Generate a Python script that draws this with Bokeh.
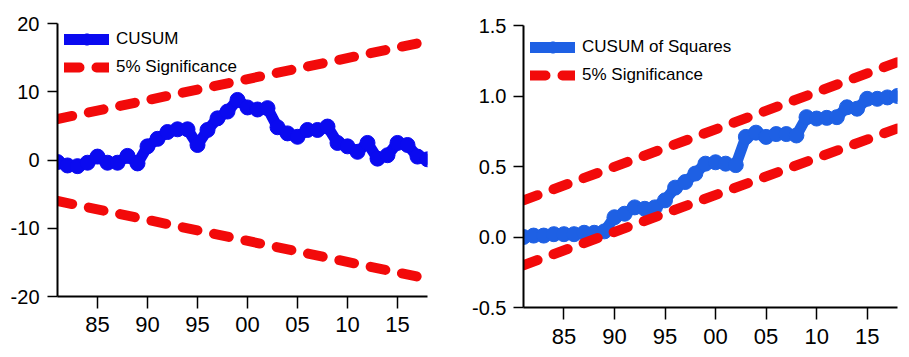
from bokeh.plotting import figure
from bokeh.layouts import row
from bokeh.models import FixedTicker, Legend, LegendItem, Range1d
from bokeh.embed import file_html
from bokeh.resources import INLINE

# ---- data ----
years = list(range(1981, 2019))
cusum = [-0.3, -0.8, -0.9, -0.4, 0.5, -0.4, -0.4, 0.6, -0.5, 2.0,
         3.1, 4.1, 4.5, 4.5, 2.2, 4.4, 6.1, 7.1, 8.8, 7.7,
         7.4, 7.6, 4.8, 3.9, 3.4, 4.4, 4.4, 4.9, 2.5, 2.0,
         1.2, 2.5, 0.2, 0.7, 2.5, 2.2, 0.5, 0.1]
cusum_band_years = [1981, 2018]
cusum_upper = [6.0, 17.4]
cusum_lower = [-6.0, -17.4]

cusumsq = [0.00, 0.01, 0.01, 0.02, 0.02, 0.02, 0.03, 0.03, 0.04, 0.14,
           0.165, 0.21, 0.20, 0.21, 0.26, 0.35, 0.39, 0.45, 0.52, 0.53,
           0.52, 0.51, 0.71, 0.74, 0.71, 0.73, 0.73, 0.72, 0.85, 0.84,
           0.845, 0.85, 0.92, 0.91, 0.98, 0.98, 0.99, 1.00]
sq_band_years = [1981, 2018]
sq_upper = [0.26, 1.24]
sq_lower = [-0.20, 0.77]

x_ticks = [1985, 1990, 1995, 2000, 2005, 2010, 2015]
x_tick_labels = ["85", "90", "95", "00", "05", "10", "15"]
left_y_ticks = [-20, -10, 0, 10, 20]
left_y_labels = ["-20", "-10", "0", "10", "20"]
right_y_ticks = [-0.5, 0.0, 0.5, 1.0, 1.5]
right_y_labels = ["-0.5", "0.0", "0.5", "1.0", "1.5"]

H = 357
SANS = "Liberation Sans"


def style(p, yticks, ylabels, x_standoff, y_standoff):
    for ax in (p.xaxis[0], p.yaxis[0]):
        ax.axis_line_color = "black"
        ax.axis_line_width = 2
        ax.major_tick_line_color = "black"
        ax.major_tick_line_width = 1.5
        ax.minor_tick_line_color = None
        ax.minor_tick_out = 0
        ax.minor_tick_in = 0
        ax.major_tick_in = 0
        ax.major_label_text_color = "black"
        ax.major_label_text_font = SANS
    p.xaxis[0].ticker = FixedTicker(ticks=x_ticks)
    p.xaxis[0].major_label_overrides = dict(zip(x_ticks, x_tick_labels))
    p.xaxis[0].major_tick_out = 12
    p.xaxis[0].major_label_standoff = x_standoff
    p.xaxis[0].major_label_text_font_size = "22px"
    p.yaxis[0].ticker = FixedTicker(ticks=yticks)
    p.yaxis[0].major_label_overrides = dict(zip(yticks, ylabels))
    p.yaxis[0].major_tick_out = 10
    p.yaxis[0].major_label_standoff = y_standoff
    p.yaxis[0].major_label_text_font_size = "20px"
    p.xgrid.visible = False
    p.ygrid.visible = False
    p.outline_line_color = None
    p.background_fill_color = "white"
    p.border_fill_color = "white"


def add_legend(p, items, loc):
    leg = Legend(items=items, location=loc, orientation="vertical",
                 glyph_width=45, glyph_height=28, label_height=28,
                 label_standoff=7, spacing=0, padding=1, margin=0,
                 border_line_color=None, background_fill_alpha=0,
                 label_text_font=SANS, label_text_font_size="17px",
                 label_text_color="black")
    p.add_layout(leg, "center")


red = "#F20A0A"

# ---- left: CUSUM ----
p1 = figure(width=460, height=H, x_range=Range1d(1981, 2018), y_range=Range1d(-20, 20),
            output_backend="svg", toolbar_location=None, frame_align=False,
            min_border_left=57, min_border_right=33, min_border_top=23,
            min_border_bottom=H - 23 - 273)
style(p1, left_y_ticks, left_y_labels, 8, 8)
blue1 = "#0A0AF0"
l1 = p1.line(years, cusum, line_color=blue1, line_width=11, line_join="round", line_cap="round")
m1 = p1.scatter(years, cusum, marker="circle", size=15, fill_color=blue1, line_color=blue1)
r1a = p1.line(cusum_band_years, cusum_upper, line_color=red, line_width=10,
              line_dash="15 17", line_cap="round")
r1b = p1.line(cusum_band_years, cusum_lower, line_color=red, line_width=10,
              line_dash="15 17", line_cap="round")
add_legend(p1, [LegendItem(label="CUSUM", renderers=[l1, m1]),
                LegendItem(label="5% Significance", renderers=[r1a])], (7, 215))

# ---- right: CUSUM of Squares ----
p2 = figure(width=449, height=H, x_range=Range1d(1981, 2018), y_range=Range1d(-0.5, 1.5),
            output_backend="svg", toolbar_location=None, frame_align=False,
            min_border_left=63, min_border_right=12, min_border_top=25,
            min_border_bottom=H - 25 - 282)
style(p2, right_y_ticks, right_y_labels, 9, 7)
blue2 = "#1E60E4"
l2 = p2.line(years, cusumsq, line_color=blue2, line_width=11, line_join="round", line_cap="round")
m2 = p2.scatter(years, cusumsq, marker="circle", size=15, fill_color=blue2, line_color=blue2)
r2a = p2.line(sq_band_years, sq_upper, line_color=red, line_width=10,
              line_dash="15 17", line_cap="round")
r2b = p2.line(sq_band_years, sq_lower, line_color=red, line_width=10,
              line_dash="15 17", line_cap="round")
add_legend(p2, [LegendItem(label="CUSUM of Squares", renderers=[l2, m2]),
                LegendItem(label="5% Significance", renderers=[r2a])], (7, 218))

layout = row(p1, p2, spacing=0)
open("out.html", "w").write(file_html(layout, INLINE))
